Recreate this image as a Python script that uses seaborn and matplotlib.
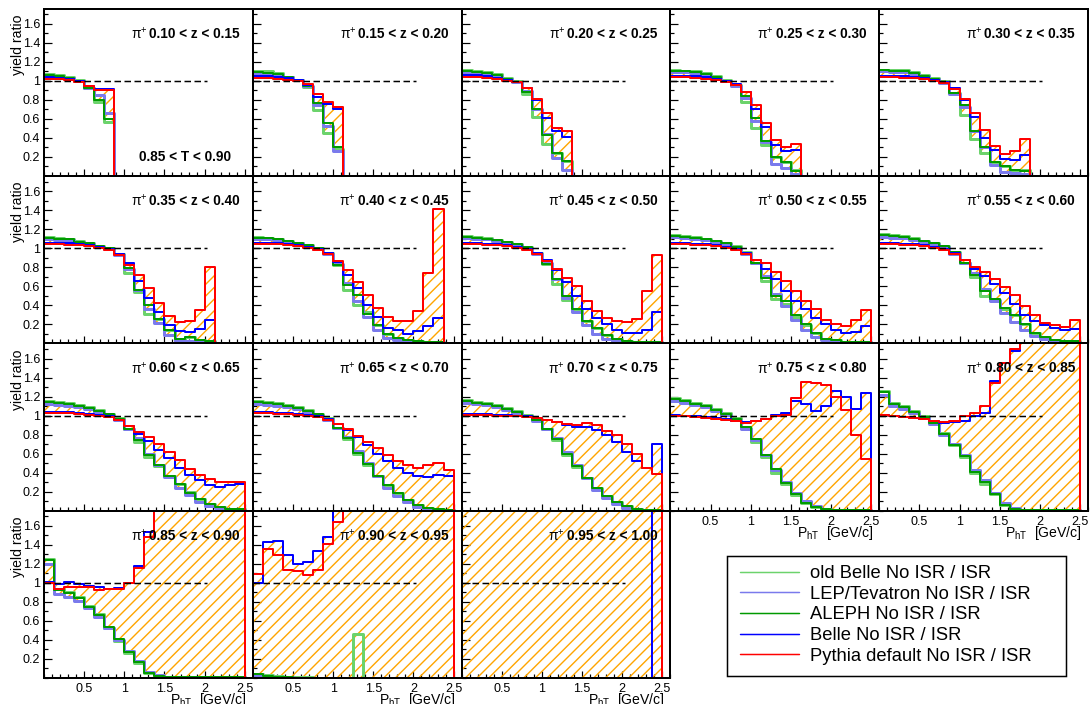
import numpy as np
import pandas as pd
import matplotlib
matplotlib.use("Agg")
import matplotlib.pyplot as plt
from matplotlib.lines import Line2D
from matplotlib.patches import Rectangle
from matplotlib.ticker import FixedLocator, MultipleLocator
import seaborn as sns

# ---------------------------------------------------------------- data
BIN_WIDTH = 0.125          # P_hT bin width [GeV/c]
N_BINS = 20                # bins from 0 to 2.5 GeV/c

z_ranges = ["0.10 < z < 0.15", "0.15 < z < 0.20", "0.20 < z < 0.25", "0.25 < z < 0.30",
            "0.30 < z < 0.35", "0.35 < z < 0.40", "0.40 < z < 0.45", "0.45 < z < 0.50",
            "0.50 < z < 0.55", "0.55 < z < 0.60", "0.60 < z < 0.65", "0.65 < z < 0.70",
            "0.70 < z < 0.75", "0.75 < z < 0.80", "0.80 < z < 0.85", "0.85 < z < 0.90",
            "0.90 < z < 0.95", "0.95 < z < 1.00"]
thrust_label = "0.85 < T < 0.90"
series_names = ["old Belle No ISR / ISR", "LEP/Tevatron No ISR / ISR", "ALEPH No ISR / ISR",
                "Belle No ISR / ISR", "Pythia default No ISR / ISR"]

# yield ratio per P_hT bin (bins not listed are empty = 0)
old_belle = [
    [1.07, 1.06, 1.04, 1.01, 0.93, 0.78, 0.57],
    [1.10, 1.10, 1.08, 1.04, 1.01, 0.94, 0.69, 0.45, 0.28],
    [1.11, 1.10, 1.09, 1.07, 1.03, 1.00, 0.86, 0.62, 0.34, 0.24, 0.16],
    [1.11, 1.10, 1.10, 1.08, 1.05, 1.01, 0.96, 0.78, 0.50, 0.33, 0.20, 0.15, 0.06],
    [1.12, 1.11, 1.11, 1.09, 1.06, 1.03, 1.00, 0.87, 0.64, 0.39, 0.24, 0.15, 0.11, 0.06, 0.06],
    [1.12, 1.11, 1.10, 1.08, 1.05, 1.02, 1.00, 0.94, 0.74, 0.54, 0.31, 0.26, 0.14, 0.05, 0.07, 0.03, 0.02],
    [1.12, 1.11, 1.10, 1.08, 1.06, 1.03, 1.00, 0.95, 0.82, 0.56, 0.40, 0.33, 0.19, 0.10, 0.06, 0.03, 0.02, 0.01, 0.01],
    [1.13, 1.12, 1.11, 1.09, 1.07, 1.04, 1.01, 0.95, 0.83, 0.62, 0.46, 0.36, 0.23, 0.16, 0.09, 0.05, 0.02, 0.01, 0.01, 0.01],
    [1.14, 1.13, 1.12, 1.10, 1.08, 1.05, 1.02, 0.96, 0.85, 0.66, 0.47, 0.41, 0.28, 0.19, 0.11, 0.05, 0.03, 0.01, 0.01, 0.01],
    [1.15, 1.14, 1.13, 1.11, 1.08, 1.05, 1.02, 0.96, 0.84, 0.70, 0.50, 0.46, 0.36, 0.30, 0.20, 0.11, 0.07, 0.03, 0.02, 0.02],
    [1.15, 1.14, 1.13, 1.11, 1.09, 1.06, 1.02, 0.97, 0.86, 0.72, 0.56, 0.47, 0.36, 0.28, 0.20, 0.12, 0.07, 0.04, 0.02, 0.02],
    [1.15, 1.14, 1.13, 1.11, 1.09, 1.06, 1.02, 0.97, 0.87, 0.75, 0.60, 0.48, 0.36, 0.27, 0.18, 0.11, 0.06, 0.03, 0.02, 0.01],
    [1.16, 1.14, 1.13, 1.11, 1.08, 1.05, 1.01, 0.96, 0.86, 0.74, 0.59, 0.46, 0.34, 0.24, 0.15, 0.09, 0.05, 0.02, 0.01, 0.01],
    [1.18, 1.16, 1.13, 1.11, 1.07, 1.03, 0.97, 0.87, 0.72, 0.56, 0.40, 0.28, 0.16, 0.08, 0.04, 0.02, 0.01, 0.01, 0.01, 0.01],
    [1.26, 1.13, 1.10, 1.05, 0.99, 0.93, 0.82, 0.69, 0.56, 0.40, 0.28, 0.17, 0.06, 0.02, 0.01, 0.01, 0.01, 0.01, 0.01, 0.01],
    [1.25, 0.93, 0.90, 0.85, 0.76, 0.67, 0.53, 0.39, 0.26, 0.16, 0.05, 0.02, 0.01, 0.01, 0.01, 0.01, 0.01, 0.01, 0.01, 0.01],
    [0.04, 0.03, 0.02, 0.01, 0.01, 0.01, 0.00, 0.00, 0.00, 0.00, 0.46],
    [],
]
lep_tevatron = [
    [1.05, 1.04, 1.03, 1.00, 0.93, 0.85, 0.66],
    [1.07, 1.07, 1.06, 1.04, 1.01, 0.95, 0.75, 0.53, 0.26],
    [1.09, 1.08, 1.07, 1.05, 1.02, 0.99, 0.89, 0.71, 0.44, 0.19, 0.06],
    [1.09, 1.09, 1.08, 1.06, 1.03, 1.00, 0.95, 0.82, 0.58, 0.36, 0.13, 0.08, 0.02],
    [1.10, 1.09, 1.09, 1.07, 1.05, 1.02, 0.98, 0.86, 0.73, 0.47, 0.30, 0.12, 0.04, 0.03, 0.02],
    [1.10, 1.09, 1.09, 1.07, 1.04, 1.01, 0.99, 0.93, 0.78, 0.56, 0.36, 0.21, 0.09, 0.02, 0.02, 0.01, 0.01],
    [1.10, 1.10, 1.09, 1.07, 1.05, 1.02, 0.99, 0.94, 0.83, 0.63, 0.45, 0.28, 0.14, 0.06, 0.03, 0.01, 0.01, 0.01, 0.01],
    [1.11, 1.10, 1.10, 1.08, 1.06, 1.03, 1.00, 0.94, 0.84, 0.68, 0.48, 0.33, 0.19, 0.10, 0.05, 0.02, 0.01, 0.01, 0.01, 0.01],
    [1.12, 1.11, 1.10, 1.09, 1.07, 1.04, 1.00, 0.94, 0.85, 0.71, 0.52, 0.39, 0.25, 0.14, 0.07, 0.03, 0.01, 0.01, 0.01, 0.01],
    [1.12, 1.11, 1.11, 1.09, 1.07, 1.04, 1.01, 0.94, 0.85, 0.74, 0.57, 0.44, 0.32, 0.22, 0.14, 0.08, 0.04, 0.02, 0.01, 0.01],
    [1.12, 1.11, 1.10, 1.09, 1.07, 1.04, 1.00, 0.95, 0.86, 0.76, 0.60, 0.48, 0.35, 0.24, 0.16, 0.09, 0.05, 0.03, 0.02, 0.01],
    [1.12, 1.11, 1.10, 1.09, 1.07, 1.04, 1.00, 0.95, 0.87, 0.77, 0.63, 0.50, 0.36, 0.24, 0.15, 0.09, 0.04, 0.02, 0.01, 0.01],
    [1.13, 1.12, 1.11, 1.09, 1.06, 1.03, 0.99, 0.94, 0.86, 0.76, 0.62, 0.48, 0.34, 0.22, 0.13, 0.07, 0.03, 0.02, 0.01, 0.01],
    [1.15, 1.13, 1.11, 1.09, 1.05, 1.01, 0.95, 0.86, 0.74, 0.58, 0.43, 0.30, 0.18, 0.10, 0.05, 0.02, 0.01, 0.01, 0.01, 0.01],
    [1.22, 1.10, 1.07, 1.03, 0.97, 0.91, 0.80, 0.70, 0.58, 0.43, 0.32, 0.19, 0.08, 0.03, 0.01, 0.01, 0.01, 0.01, 0.01, 0.01],
    [1.20, 0.88, 0.85, 0.81, 0.74, 0.64, 0.52, 0.40, 0.28, 0.18, 0.06, 0.03, 0.01, 0.01, 0.01, 0.01, 0.01, 0.01, 0.01, 0.01],
    [0.03, 0.02, 0.01, 0.01],
    [],
]
aleph = [
    [1.06, 1.05, 1.03, 1.00, 0.93, 0.80, 0.60],
    [1.09, 1.08, 1.07, 1.04, 1.01, 0.95, 0.77, 0.56, 0.30],
    [1.10, 1.09, 1.08, 1.06, 1.02, 0.99, 0.88, 0.71, 0.43, 0.24, 0.16],
    [1.10, 1.10, 1.09, 1.07, 1.04, 1.00, 0.96, 0.84, 0.61, 0.37, 0.20, 0.15, 0.05],
    [1.11, 1.10, 1.10, 1.08, 1.05, 1.02, 0.99, 0.87, 0.75, 0.47, 0.31, 0.15, 0.11, 0.06, 0.05],
    [1.11, 1.10, 1.10, 1.07, 1.05, 1.02, 1.00, 0.94, 0.79, 0.56, 0.40, 0.26, 0.14, 0.05, 0.07, 0.03, 0.02],
    [1.11, 1.11, 1.10, 1.08, 1.06, 1.03, 1.00, 0.95, 0.82, 0.61, 0.51, 0.31, 0.19, 0.10, 0.06, 0.03, 0.02, 0.01, 0.01],
    [1.12, 1.11, 1.10, 1.09, 1.07, 1.04, 1.01, 0.95, 0.83, 0.68, 0.50, 0.36, 0.23, 0.16, 0.09, 0.05, 0.02, 0.01, 0.01, 0.01],
    [1.13, 1.12, 1.11, 1.10, 1.08, 1.05, 1.01, 0.95, 0.85, 0.69, 0.50, 0.44, 0.30, 0.20, 0.11, 0.05, 0.03, 0.01, 0.01, 0.01],
    [1.14, 1.13, 1.12, 1.10, 1.08, 1.05, 1.02, 0.96, 0.85, 0.72, 0.55, 0.47, 0.37, 0.30, 0.20, 0.11, 0.07, 0.03, 0.02, 0.02],
    [1.14, 1.13, 1.12, 1.10, 1.08, 1.05, 1.02, 0.96, 0.86, 0.74, 0.58, 0.48, 0.36, 0.28, 0.19, 0.12, 0.07, 0.04, 0.02, 0.02],
    [1.14, 1.13, 1.12, 1.10, 1.08, 1.05, 1.02, 0.96, 0.87, 0.76, 0.61, 0.49, 0.36, 0.27, 0.18, 0.11, 0.06, 0.03, 0.02, 0.01],
    [1.15, 1.13, 1.12, 1.10, 1.07, 1.04, 1.00, 0.95, 0.86, 0.75, 0.60, 0.47, 0.34, 0.24, 0.15, 0.09, 0.05, 0.02, 0.01, 0.01],
    [1.17, 1.15, 1.12, 1.10, 1.06, 1.02, 0.96, 0.88, 0.75, 0.59, 0.44, 0.29, 0.17, 0.08, 0.04, 0.02, 0.01, 0.01, 0.01, 0.01],
    [1.25, 1.12, 1.09, 1.04, 0.98, 0.92, 0.81, 0.69, 0.57, 0.41, 0.30, 0.17, 0.06, 0.02, 0.01, 0.01, 0.01, 0.01, 0.01, 0.01],
    [1.24, 0.92, 0.89, 0.84, 0.75, 0.66, 0.54, 0.41, 0.27, 0.17, 0.05, 0.02, 0.01, 0.01, 0.01, 0.01, 0.01, 0.01, 0.01, 0.01],
    [0.04, 0.02, 0.01, 0.01],
    [],
]
belle = [
    [1.04, 1.03, 1.02, 1.00, 0.95, 0.92, 0.92],
    [1.05, 1.05, 1.04, 1.03, 1.01, 0.96, 0.83, 0.76, 0.71],
    [1.06, 1.06, 1.05, 1.03, 1.01, 0.99, 0.93, 0.80, 0.61, 0.47, 0.41],
    [1.05, 1.05, 1.05, 1.04, 1.02, 1.00, 0.97, 0.88, 0.71, 0.52, 0.33, 0.26, 0.27],
    [1.05, 1.05, 1.05, 1.04, 1.03, 1.01, 0.99, 0.93, 0.80, 0.62, 0.40, 0.27, 0.18, 0.17, 0.22],
    [1.05, 1.05, 1.05, 1.04, 1.03, 1.01, 0.99, 0.94, 0.84, 0.66, 0.48, 0.33, 0.19, 0.13, 0.12, 0.15, 0.25],
    [1.05, 1.05, 1.05, 1.04, 1.03, 1.01, 0.99, 0.95, 0.86, 0.72, 0.58, 0.40, 0.28, 0.16, 0.14, 0.10, 0.13, 0.18, 0.27],
    [1.05, 1.05, 1.04, 1.04, 1.03, 1.01, 0.99, 0.95, 0.88, 0.77, 0.64, 0.50, 0.36, 0.27, 0.20, 0.14, 0.11, 0.11, 0.14, 0.33],
    [1.05, 1.05, 1.04, 1.04, 1.03, 1.01, 0.99, 0.95, 0.88, 0.78, 0.68, 0.55, 0.44, 0.36, 0.27, 0.20, 0.14, 0.11, 0.12, 0.18],
    [1.05, 1.05, 1.04, 1.04, 1.03, 1.01, 0.99, 0.95, 0.88, 0.78, 0.71, 0.62, 0.53, 0.41, 0.30, 0.23, 0.19, 0.16, 0.14, 0.15],
    [1.04, 1.04, 1.04, 1.03, 1.02, 1.01, 0.99, 0.95, 0.89, 0.81, 0.73, 0.64, 0.55, 0.45, 0.37, 0.32, 0.27, 0.25, 0.27, 0.28],
    [1.04, 1.04, 1.03, 1.03, 1.02, 1.01, 0.99, 0.96, 0.91, 0.85, 0.77, 0.69, 0.60, 0.52, 0.45, 0.40, 0.36, 0.35, 0.37, 0.36],
    [1.02, 1.02, 1.02, 1.01, 1.01, 1.00, 0.99, 0.97, 0.95, 0.93, 0.90, 0.88, 0.88, 0.85, 0.80, 0.72, 0.62, 0.52, 0.45, 0.70],
    [1.01, 1.00, 0.99, 0.98, 0.97, 0.96, 0.94, 0.93, 0.94, 0.96, 1.01, 1.03, 1.15, 1.12, 1.05, 1.10, 1.26, 1.20, 1.07, 1.24],
    [1.01, 0.99, 0.98, 0.97, 0.96, 0.94, 0.92, 0.93, 0.94, 0.99, 1.03, 1.36, 1.55, 1.68, 2.20, 2.60, 3.00, 3.40, 3.80, 4.20],
    [1.01, 0.99, 1.01, 0.99, 0.97, 0.96, 0.94, 0.95, 1.00, 1.18, 1.53, 2.00, 2.50, 3.00, 3.50, 4.00, 4.50, 5.00, 5.50, 6.00],
    [1.00, 1.43, 1.44, 1.29, 1.20, 1.22, 1.34, 1.48, 2.00, 2.40, 2.80, 3.20, 3.60, 4.00, 4.40, 4.80, 5.20, 5.60, 6.00, 6.40],
    [3.00, 3.00, 3.00, 3.00, 3.00, 3.00, 3.00, 3.00, 3.00, 3.00, 3.00, 3.00, 3.00, 3.00, 3.00, 3.00, 3.00, 3.00, 3.00],
]
pythia = [
    [1.02, 1.02, 1.01, 0.99, 0.95, 0.90, 0.90],
    [1.03, 1.03, 1.02, 1.01, 1.00, 0.97, 0.86, 0.78, 0.73],
    [1.04, 1.04, 1.03, 1.02, 1.00, 0.99, 0.93, 0.81, 0.66, 0.51, 0.47],
    [1.04, 1.04, 1.03, 1.02, 1.01, 0.99, 0.96, 0.88, 0.75, 0.56, 0.38, 0.30, 0.34],
    [1.04, 1.04, 1.03, 1.03, 1.02, 1.00, 0.98, 0.92, 0.81, 0.66, 0.48, 0.32, 0.23, 0.26, 0.39],
    [1.04, 1.04, 1.03, 1.03, 1.02, 1.00, 0.98, 0.93, 0.82, 0.72, 0.58, 0.42, 0.29, 0.22, 0.23, 0.35, 0.80],
    [1.04, 1.04, 1.04, 1.03, 1.02, 1.00, 0.98, 0.94, 0.87, 0.77, 0.65, 0.51, 0.37, 0.28, 0.23, 0.23, 0.34, 0.74, 1.41],
    [1.04, 1.04, 1.03, 1.03, 1.02, 1.00, 0.98, 0.94, 0.87, 0.78, 0.69, 0.60, 0.45, 0.34, 0.27, 0.23, 0.22, 0.26, 0.55, 0.93],
    [1.04, 1.04, 1.03, 1.03, 1.02, 1.00, 0.98, 0.94, 0.88, 0.84, 0.75, 0.66, 0.55, 0.44, 0.36, 0.25, 0.20, 0.18, 0.25, 0.35],
    [1.04, 1.04, 1.03, 1.03, 1.02, 1.00, 0.98, 0.94, 0.88, 0.80, 0.75, 0.68, 0.59, 0.51, 0.39, 0.30, 0.21, 0.19, 0.17, 0.24],
    [1.03, 1.03, 1.03, 1.02, 1.01, 1.00, 0.98, 0.95, 0.89, 0.83, 0.77, 0.70, 0.62, 0.53, 0.44, 0.37, 0.33, 0.30, 0.30, 0.30],
    [1.03, 1.03, 1.02, 1.02, 1.01, 1.00, 0.98, 0.95, 0.91, 0.86, 0.79, 0.72, 0.66, 0.58, 0.52, 0.48, 0.45, 0.48, 0.50, 0.43],
    [1.01, 1.01, 1.01, 1.00, 1.00, 0.99, 0.98, 0.97, 0.95, 0.93, 0.91, 0.90, 0.92, 0.90, 0.84, 0.80, 0.70, 0.60, 0.45, 0.38],
    [1.00, 0.99, 0.98, 0.97, 0.96, 0.95, 0.94, 0.92, 0.94, 0.96, 0.99, 1.01, 1.18, 1.35, 1.34, 1.32, 1.19, 1.06, 0.80, 0.54],
    [1.01, 0.99, 0.98, 0.97, 0.96, 0.94, 0.93, 0.94, 0.99, 1.03, 1.10, 1.34, 1.55, 1.70, 2.20, 2.60, 3.00, 3.40, 3.80, 4.20],
    [1.00, 0.93, 0.96, 0.96, 0.96, 0.92, 0.93, 0.93, 1.00, 1.16, 1.48, 2.00, 2.50, 3.00, 3.50, 4.00, 4.50, 5.00, 5.50, 6.00],
    [1.09, 1.36, 1.29, 1.14, 1.12, 1.08, 1.14, 1.41, 1.64, 2.00, 2.40, 2.80, 3.20, 3.60, 4.00, 4.40, 4.80, 5.20, 5.60, 6.00],
    [3.00, 3.00, 3.00, 3.00, 3.00, 3.00, 3.00, 3.00, 3.00, 3.00, 3.00, 3.00, 3.00, 3.00, 3.00, 3.00, 3.00, 3.00, 3.00, 3.00],
]
x_tick_values = [0.5, 1.0, 1.5, 2.0, 2.5]
x_tick_labels = ["0.5", "1", "1.5", "2", "2.5"]
y_tick_values = [0.2, 0.4, 0.6, 0.8, 1.0, 1.2, 1.4, 1.6]
y_tick_labels = ["0.2", "0.4", "0.6", "0.8", "1", "1.2", "1.4", "1.6"]

# ---------------------------------------------------------------- style
COLORS = {series_names[0]: "#6cd36c", series_names[1]: "#7a7aec", series_names[2]: "#009a00",
          series_names[3]: "#0000ff", series_names[4]: "#ff0000"}
DPI = 140
PT = 72.0 / DPI                     # points per pixel
LWS = {series_names[0]: 3.0 * PT, series_names[1]: 3.0 * PT, series_names[2]: 2.0 * PT,
       series_names[3]: 2.0 * PT, series_names[4]: 2.0 * PT}
HATCH_COLOR = "#ffa500"

sns.set_theme(style="white")
plt.rcParams.update({
    "axes.edgecolor": "black", "axes.linewidth": 2.0 * PT, "axes.facecolor": "white",
    "xtick.color": "black", "ytick.color": "black", "text.color": "black",
    "xtick.direction": "in", "ytick.direction": "in",
    "xtick.major.size": 7 * PT, "xtick.minor.size": 4 * PT,
    "ytick.major.size": 8 * PT, "ytick.minor.size": 4 * PT,
    "xtick.major.width": 1.2 * PT, "xtick.minor.width": 1.2 * PT,
    "ytick.major.width": 1.2 * PT, "ytick.minor.width": 1.2 * PT,
    "hatch.color": HATCH_COLOR, "hatch.linewidth": 1.4 * PT,
    "lines.scale_dashes": False,
    "mathtext.fontset": "custom", "mathtext.rm": "Liberation Sans",
    "mathtext.it": "Liberation Sans:italic", "mathtext.bf": "Liberation Sans:bold",
})
plt.rcParams["font.family"] = ["Liberation Sans", "DejaVu Sans"]

W, H = 1092, 704
fig = plt.figure(figsize=(W / DPI, H / DPI), dpi=DPI)
fig.patch.set_facecolor("white")

LEFT0, COLW, TOP0, ROWH = 44.0, 208.8, 8.7, 167.3
TICK_FS = 12.5 * PT
edges = np.arange(N_BINS + 1) * BIN_WIDTH


def padded(vals):
    out = np.zeros(N_BINS)
    out[:len(vals)] = vals
    return out


all_series = [old_belle, lep_tevatron, aleph, belle, pythia]
n_panels = len(z_ranges)
bottom_panels = {n_panels - 1 - k for k in range(5)}

for i in range(n_panels):
    r, c = divmod(i, 5)
    left = LEFT0 + c * COLW
    top = TOP0 + r * ROWH
    ax = fig.add_axes([left / W, 1 - (top + ROWH) / H, COLW / W, ROWH / H])

    vals = np.vstack([padded(s[i]) for s in all_series])
    lo, hi = vals.min(axis=0), vals.max(axis=0)
    ax.fill_between(edges, np.append(lo, lo[-1]), np.append(hi, hi[-1]), step="post",
                    facecolor="none", edgecolor=HATCH_COLOR, hatch="////", linewidth=0, zorder=1)

    frames = []
    for name, v in zip(series_names, vals):
        frames.append(pd.DataFrame({"pT": edges, "ratio": np.append(v, 0.0), "series": name}))
    df = pd.concat(frames, ignore_index=True)
    sns.lineplot(data=df, x="pT", y="ratio", hue="series", size="series",
                 hue_order=series_names, size_order=series_names,
                 palette=COLORS, sizes=LWS, estimator=None, sort=False,
                 drawstyle="steps-post", legend=False, ax=ax, zorder=3)

    ax.plot([0.0, 2.03], [1.0, 1.0], color="black", linewidth=1.5 * PT,
            linestyle=(0, (6.5 * PT, 3.5 * PT)), zorder=5)

    ax.set_xlim(0, 2.6)
    ax.set_ylim(0, 1.76)
    ax.set_xlabel("")
    ax.set_ylabel("")
    ax.xaxis.set_major_locator(FixedLocator(x_tick_values))
    ax.xaxis.set_minor_locator(MultipleLocator(0.1))
    ax.yaxis.set_major_locator(FixedLocator(y_tick_values))
    ax.yaxis.set_minor_locator(MultipleLocator(0.1))
    ax.tick_params(which="both", top=False, right=False, bottom=True, left=True)
    if i in bottom_panels:
        ax.set_xticklabels(x_tick_labels, fontsize=TICK_FS)
        ax.tick_params(axis="x", pad=5 * PT)
        fig.text((left + 203) / W, 1 - (top + ROWH + 13) / H, "P$_{\\mathrm{hT}}$  [GeV/c]",
                 ha="right", va="top", fontsize=14 * PT)
    else:
        ax.tick_params(axis="x", labelbottom=False)
    if c == 0:
        ax.set_yticklabels(y_tick_labels, fontsize=TICK_FS)
        ax.tick_params(axis="y", pad=4 * PT)
        fig.text(18 / W, 1 - (top + 6) / H, "yield ratio", rotation=90,
                 ha="center", va="top", fontsize=14 * PT)
    else:
        ax.tick_params(axis="y", labelleft=False)
    for sp in ax.spines.values():
        sp.set_visible(True)
        sp.set_zorder(6)

    t = ax.text(1 - 13 / COLW, 1 - 25 / ROWH, z_ranges[i], transform=ax.transAxes,
                ha="right", va="center", fontweight="bold", fontsize=13.6 * PT, zorder=7)
    ax.annotate("$\\mathrm{\\pi}^{+}$", xy=(0, 0.5), xycoords=t, xytext=(-2 * PT, 0),
                textcoords="offset points", ha="right", va="center", fontsize=13.6 * PT, zorder=7)
    if i == 0:
        ax.text(1 - 22 / COLW, 19 / ROWH, thrust_label, transform=ax.transAxes,
                ha="right", va="center", fontweight="bold", fontsize=13.6 * PT, zorder=7)

# ---------------------------------------------------------------- legend
BOX = (727, 556, 1066, 676)
fig.patches.append(Rectangle((BOX[0] / W, 1 - BOX[3] / H), (BOX[2] - BOX[0]) / W,
                             (BOX[3] - BOX[1]) / H, transform=fig.transFigure,
                             facecolor="white", edgecolor="black", linewidth=1.5 * PT))
handles = [Line2D([], [], color=COLORS[n], linewidth=1.5 * PT) for n in series_names]
fig.legend(handles, series_names, loc="upper left",
           bbox_to_anchor=(740 / W, 1 - 565 / H), bbox_transform=fig.transFigure,
           frameon=False, fontsize=18.4 * PT, handlelength=3.2, handletextpad=0.6,
           labelspacing=0.2, borderpad=0, borderaxespad=0)

fig.savefig("out.png", dpi=DPI, facecolor="white")
